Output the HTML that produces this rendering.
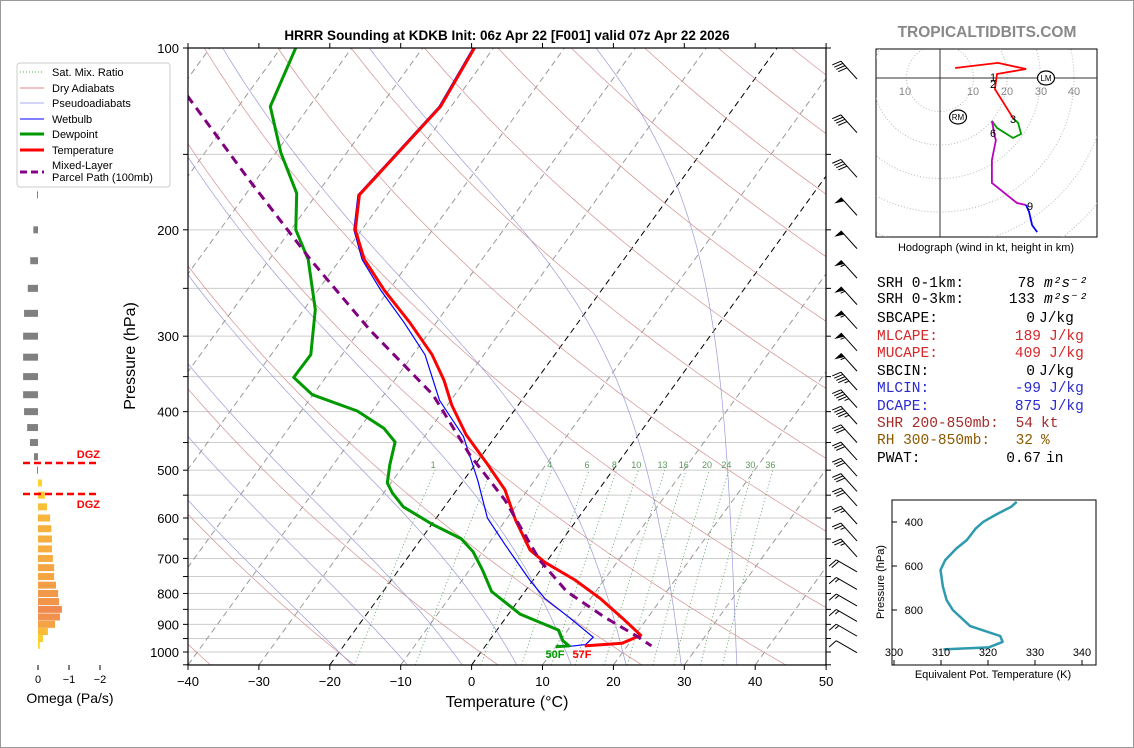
<!DOCTYPE html>
<html><head><meta charset="utf-8">
<style>
html,body{margin:0;padding:0;background:#fff;}
svg{display:block;font-family:"Liberation Sans","DejaVu Sans",sans-serif;}
.mono{font-family:"Liberation Mono","DejaVu Sans Mono",monospace;font-size:14.5px;}
</style></head>
<body>
<svg id="fig" width="1134" height="748" viewBox="0 0 1134 748" xmlns="http://www.w3.org/2000/svg">
<rect x="0.5" y="0.5" width="1133" height="747" fill="#fff" stroke="#999"/>
<defs><clipPath id="pc"><rect x="188" y="48" width="638" height="617"/></clipPath></defs>
<g id="bg" clip-path="url(#pc)"></g>
<g id="series" clip-path="url(#pc)"></g>
<g id="axes"></g>
<text x="507" y="40" text-anchor="middle" font-size="13.5" font-weight="bold">HRRR Sounding at KDKB Init: 06z Apr 22 [F001] valid 07z Apr 22 2026</text>
<text x="987" y="37" text-anchor="middle" font-size="15.5" font-weight="bold" fill="#888">TROPICALTIDBITS.COM</text>
<text x="507" y="707" text-anchor="middle" font-size="16">Temperature (°C)</text>
<text x="135" y="356" text-anchor="middle" font-size="16" transform="rotate(-90 135 356)">Pressure (hPa)</text>
<g id="legend">
<rect x="17" y="63" width="153" height="124" rx="3" fill="#fff" stroke="#ccc"/>
<g><line x1="20" y1="72" x2="44" y2="72" stroke="#4a4" stroke-dasharray="1,2"/><text x="52" y="76" font-size="11">Sat. Mix. Ratio</text></g>
<g><line x1="20" y1="88" x2="44" y2="88" stroke="#d88"/><text x="52" y="92" font-size="11">Dry Adiabats</text></g>
<g><line x1="20" y1="103" x2="44" y2="103" stroke="#aae"/><text x="52" y="107" font-size="11">Pseudoadiabats</text></g>
<g><line x1="20" y1="119" x2="44" y2="119" stroke="#00f"/><text x="52" y="123" font-size="11">Wetbulb</text></g>
<g><line x1="20" y1="134" x2="44" y2="134" stroke="#090" stroke-width="3"/><text x="52" y="138" font-size="11">Dewpoint</text></g>
<g><line x1="20" y1="150" x2="44" y2="150" stroke="#f00" stroke-width="3"/><text x="52" y="154" font-size="11">Temperature</text></g>
<g><line x1="20" y1="172" x2="44" y2="172" stroke="#808" stroke-width="3" stroke-dasharray="7,4"/><text x="52" y="169" font-size="11">Mixed-Layer</text><text x="52" y="181" font-size="11">Parcel Path (100mb)</text></g>
</g>
<g id="omega"></g>
<g id="barbs"></g>
<g id="hodo"></g>
<g id="stats"></g>
<g id="thetae"></g>
</svg>
<script>
// ---- data ----
const tempP = [100,125,150,175,200,224,252,285,322,355,390,437,486,539,605,678,710,760,815,879,938,967,977];
const tempT = [-62.7,-61.5,-62.8,-63.9,-60.9,-56.6,-50.6,-43.7,-37.3,-33.0,-29.4,-24.3,-18.6,-13.2,-8.6,-3.5,-0.2,5.9,11.3,16.5,20.8,19.0,14.0];
const dewP = [100,125,149,174,200,224,271,322,351,375,399,426,449,490,525,545,575,614,649,682,733,794,866,920,958,977,980];
const dewT = [-87.9,-85.5,-79.3,-72.9,-69.3,-64.5,-58.4,-54.4,-54.5,-50.1,-42.1,-36.6,-33.6,-32,-30.5,-28.8,-25.8,-20,-14.4,-11.4,-8.1,-4.7,1.7,8.7,10.4,11.8,10.0];
const wbP = [100,125,150,175,200,224,252,285,322,383,440,520,600,664,760,815,879,945,972,980];
const wbT = [-62.9,-61.7,-63.0,-64.1,-61.1,-56.9,-51.1,-44.5,-38.3,-31.6,-24.5,-18,-12.8,-7.6,-0.5,3.5,9.1,14.3,14.0,11.5];
const parP = [120,165,224,293,375,472,560,705,794,876,942,977];
const parT = [-98.3,-81.1,-64.2,-48.6,-33.1,-21.7,-12.2,-1.1,5.9,13.9,20.4,23.4];
const xTicks = [-40,-30,-20,-10,0,10,20,30,40,50];
const pLabels = [100,200,300,400,500,600,700,800,900,1000];
const mixRatios = [1,2,4,6,8,10,13,16,20,24,30,36];
const omegaP = [175,200,225,250,275,300,325,350,375,400,425,450,475,500,525,550,575,600,625,650,675,700,725,750,775,800,825,850,875,900,925,950,975];
const omegaV = [0.03,0.15,0.25,0.33,0.45,0.48,0.48,0.48,0.48,0.45,0.35,0.26,0.13,0.01,-0.13,-0.22,-0.29,-0.39,-0.43,-0.45,-0.45,-0.48,-0.52,-0.52,-0.58,-0.65,-0.68,-0.77,-0.71,-0.55,-0.32,-0.16,-0.06];
const barbP = [110,135,160,185,210,235,260,285,310,335,360,385,410,440,470,500,530,560,600,640,680,720,770,820,870,920,980];
const barbS = [40,40,40,50,50,55,55,55,55,55,45,45,45,30,30,30,30,30,25,25,25,20,15,15,15,15,10];
const hodoU = [4.5,17.3,25.7,17,16.4,20.9,21.8,23.3,24.2,21.8,17,15.5,16.4,16.7,15.5,15.5,23,25.7,26.6,27.5,29];
const hodoV = [3,4.5,2.7,1.2,-3.3,-10.5,-12,-13.4,-16.7,-17.9,-14.9,-12.8,-17.6,-18.5,-24.5,-31.3,-37.3,-37.9,-40,-43.9,-46];
const hodoSeg = [0,0,0,0,0,0,0,1,1,1,1,1,2,2,2,2,2,2,3,3,3];
const thetaE = [326.1,325.0,321.9,319.0,317.4,315.5,313.3,310.9,309.9,310.4,311.2,312.5,316.2,322.6,323.1,320.1,310.5];
const thetaP = [308,330,364,399,429,482,520,573,618,694,755,800,873,918,945,970,979];

const NS='http://www.w3.org/2000/svg';
function mk(parent,tag,attrs){const e=document.createElementNS(NS,tag);for(const k in attrs)e.setAttribute(k,attrs[k]);parent.appendChild(e);return e;}
function Y(p){return 48+604*Math.log10(p/100);}
function X(T,p){return 188+(T+40)*7.09+(665-Y(p))*0.725;}
function pathFrom(Ts,Ps){return Ts.map((t,i)=>(i?'L':'M')+X(t,Ps[i]).toFixed(1)+' '+Y(Ps[i]).toFixed(1)).join(' ');}

const bg=document.getElementById('bg');
for(let p=100;p<=1050;p+=50){const l=mk(bg,'line',{x1:188,x2:826,y1:Y(p),y2:Y(p),stroke:'#ccc','stroke-width':1});

}
for(let t=-150;t<=50;t+=10){const l=mk(bg,'line',{x1:X(t,1050),y1:Y(1050),x2:X(t,100),y2:Y(100),stroke:(t==0||t==-20)?'#000':'#999','stroke-width':1,'stroke-dasharray':'6,4'});

}
for(let th=233;th<=560;th+=20){let d='';for(let p=1050;p>=100;p-=10){const T=th*Math.pow(p/1000,0.286)-273.15;d+=(d?'L':'M')+X(T,p).toFixed(1)+' '+Y(p).toFixed(1);}
const l=mk(bg,'path',{d:d,fill:'none',stroke:'#d49090','stroke-width':0.7});

}
function es(Tc){return 6.112*Math.exp(17.67*Tc/(Tc+243.5));}
function dTdp(Tk,p){const rs=0.622*es(Tk-273.15)/(p-es(Tk-273.15));const Lv=2.5e6,Rd=287,cp=1005;return (Rd*Tk+Lv*rs)/(cp+Lv*Lv*rs*0.622/(Rd*Tk*Tk))/p;}
for(let t0=-20;t0<=40;t0+=8){let pts=[];let Tk=t0+273.15;for(let p=1000;p<=1050;p+=5){pts.push([Tk,p]);Tk+=dTdp(Tk,p)*5;}
pts=pts.reverse();Tk=t0+273.15;for(let p=1000;p>=100;p-=5){pts.push([Tk,p]);Tk-=dTdp(Tk,p)*5;}
const d=pts.map((q,i)=>(i?'L':'M')+X(q[0]-273.15,q[1]).toFixed(1)+' '+Y(q[1]).toFixed(1)).join(' ');
const l=mk(bg,'path',{d:d,fill:'none',stroke:'#9b9bd8','stroke-width':0.7});

}
mixRatios.forEach(w=>{let d='';for(let p=1050;p>=500;p-=10){const e=p*w/(622+w);const L=Math.log(e/6.112);const Td=243.5*L/(17.67-L);d+=(d?'L':'M')+X(Td,p).toFixed(1)+' '+Y(p).toFixed(1);}
const l=mk(bg,'path',{d:d,fill:'none',stroke:'#4a9a4a','stroke-width':0.8,'stroke-dasharray':'1,2.5'});


if(w!=2){const e=490*w/(622+w);const L=Math.log(e/6.112);const Td=243.5*L/(17.67-L);
const tx=mk(bg,'text',{x:X(Td,490)-4,y:468,'text-anchor':'middle','font-size':9,fill:'#5a9a5a'});tx.textContent=w;

}});

const sr=document.getElementById('series');
const s1=mk(sr,'path',{d:pathFrom(wbT,wbP),fill:'none',stroke:'#00f','stroke-width':1.2});


const s2=mk(sr,'path',{d:pathFrom(dewT,dewP),fill:'none',stroke:'#090','stroke-width':3,'stroke-linejoin':'round'});


const s3=mk(sr,'path',{d:pathFrom(tempT,tempP),fill:'none',stroke:'#f00','stroke-width':3,'stroke-linejoin':'round'});


const s4=mk(sr,'path',{d:pathFrom(parT,parP),fill:'none',stroke:'#800080','stroke-width':3,'stroke-dasharray':'9,6'});


const lb1=mk(sr,'text',{x:555,y:658,'text-anchor':'middle','font-size':11,'font-weight':'bold',fill:'#090'});lb1.textContent='50F';


const lb2=mk(sr,'text',{x:582,y:658,'text-anchor':'middle','font-size':11,'font-weight':'bold',fill:'#f00'});lb2.textContent='57F';



const ax=document.getElementById('axes');
const fr=mk(ax,'rect',{x:188,y:48,width:638,height:617,fill:'none',stroke:'#000','stroke-width':1.2});


xTicks.forEach(t=>{const x=188+(t+40)*7.09;mk(ax,'line',{x1:x,x2:x,y1:665,y2:670,stroke:'#000'});mk(ax,'line',{x1:x,x2:x,y1:48,y2:43,stroke:'#000'});
const tx=mk(ax,'text',{x:x,y:686,'text-anchor':'middle','font-size':13});tx.textContent=(t<0?'\u2212':'')+Math.abs(t);

});
for(let p=100;p<=1050;p+=50){const y=Y(p);mk(ax,'line',{x1:183,x2:188,y1:y,y2:y,stroke:'#000'});mk(ax,'line',{x1:826,x2:831,y1:y,y2:y,stroke:'#000'});}
pLabels.forEach(p=>{const tx=mk(ax,'text',{x:179,y:Y(p)+5,'text-anchor':'end','font-size':13});tx.textContent=p;

});

const om=document.getElementById('omega');
function omCol(v){if(v>=0)return '#808080';const m=Math.min(-v/0.8,1);const c1=[253,224,40],c2=[240,135,80];return 'rgb('+c1.map((c,i)=>Math.round(c+(c2[i]-c)*m)).join(',')+')';}
omegaP.forEach((p,i)=>{const v=omegaV[i];const w=Math.max(Math.abs(v)*31,1);const x=v>=0?38-w:38;
const r=mk(om,'rect',{x:x,y:Y(p)-3.5,width:w,height:7,fill:omCol(v)});

});
[0,-1,-2].forEach(v=>{const x=38-v*31;mk(om,'line',{x1:x,x2:x,y1:665,y2:670,stroke:'#000'});const t=mk(om,'text',{x:x,y:683,'text-anchor':'middle','font-size':11});t.textContent=v==0?'0':'\u2212'+(-v);

});
const ot=mk(om,'text',{x:70,y:703,'text-anchor':'middle','font-size':14});ot.textContent='Omega (Pa/s)';


[[463,458],[494,508]].forEach(a=>{const l=mk(om,'line',{x1:23,x2:99,y1:a[0],y2:a[0],stroke:'#f00','stroke-width':2.5,'stroke-dasharray':'7,4'});


const t=mk(om,'text',{x:100,y:a[1],'text-anchor':'end','font-size':11,'font-weight':'bold',fill:'#f00'});t.textContent='DGZ';

});

const bb=document.getElementById('barbs');
barbP.forEach((p,i)=>{const s=barbS[i];const y=Y(p);const bx=857,by=y+6;const ang=s<=20?-150*Math.PI/180:-132*Math.PI/180;
const ux=Math.cos(ang),uy=Math.sin(ang);const L=24;const tx=bx+ux*L,ty=by+uy*L;
const g=mk(bb,'g',{});


mk(g,'line',{x1:bx,y1:by,x2:tx,y2:ty,stroke:'#000','stroke-width':1});
const nx=-uy,ny=ux;let rem=s,pos=0;
while(rem>=50){const ax1=tx-ux*pos,ay1=ty-uy*pos;const ax2=tx-ux*(pos+5),ay2=ty-uy*(pos+5);mk(g,'polygon',{points:`${ax1},${ay1} ${ax1-nx*9},${ay1-ny*9} ${ax2},${ay2}`,fill:'#000'});pos+=6;rem-=50;}
while(rem>=10){const ax1=tx-ux*pos,ay1=ty-uy*pos;mk(g,'line',{x1:ax1,y1:ay1,x2:ax1-nx*9+ux*3,y2:ay1-ny*9+uy*3,stroke:'#000'});pos+=3;rem-=10;}
if(rem>=5){pos=Math.max(pos,3);const ax1=tx-ux*pos,ay1=ty-uy*pos;mk(g,'line',{x1:ax1,y1:ay1,x2:ax1-nx*4.5+ux*1.5,y2:ay1-ny*4.5+uy*1.5,stroke:'#000'});}
});

const hd=document.getElementById('hodo');
const hx0=940,hy0=78,hs=3.35;
mk(hd,'rect',{x:876,y:49,width:221,height:188,fill:'#fff',stroke:'#000'});
const hcp=mk(hd,'clipPath',{id:'hc'});mk(hcp,'rect',{x:876,y:49,width:221,height:188});
const hin=mk(hd,'g',{'clip-path':'url(#hc)'});
for(let r=10;r<=80;r+=10){const c=mk(hin,'circle',{cx:hx0,cy:hy0,r:r*hs,fill:'none',stroke:'#bbb','stroke-dasharray':'1,2'});

}
mk(hin,'line',{x1:876,x2:1097,y1:hy0,y2:hy0,stroke:'#333'});mk(hin,'line',{x1:hx0,x2:hx0,y1:49,y2:237,stroke:'#333'});
[[-10,905],[10,973],[20,1007],[30,1041],[40,1074]].forEach(a=>{const t=mk(hin,'text',{x:a[1],y:95,'text-anchor':'middle','font-size':11,fill:'#888'});t.textContent=Math.abs(a[0]);

});
const segCols=['#f00','#090','#b0b','#00f'];
for(let s=0;s<4;s++){
const idx=hodoU.map((u,i)=>i).filter(i=>hodoSeg[i]===s);if(s>0)idx.unshift(idx[0]-1);
const d=idx.map((i,k)=>(k?'L':'M')+(hx0+hodoU[i]*hs).toFixed(1)+' '+(hy0-hodoV[i]*hs).toFixed(1)).join(' ');
const l=mk(hin,'path',{d:d,fill:'none',stroke:segCols[s],'stroke-width':1.8});

}
[['1',993,81],['2',993,88],['3',1013,123],['6',993,137],['9',1030,210]].forEach(a=>{const t=mk(hin,'text',{x:a[1],y:a[2],'text-anchor':'middle','font-size':11});t.textContent=a[0];

});
[['RM',958,117],['LM',1046,78]].forEach(a=>{mk(hin,'ellipse',{cx:a[1],cy:a[2],rx:8.5,ry:7,fill:'#fff',stroke:'#000','stroke-width':1.2});const t=mk(hin,'text',{x:a[1],y:a[2]+3,'text-anchor':'middle','font-size':8});t.textContent=a[0];

});
const hct=mk(hd,'text',{x:986,y:251,'text-anchor':'middle','font-size':11});hct.textContent='Hodograph (wind in kt, height in km)';



const st=document.getElementById('stats');
const rows=[['SRH 0-1km:','78','m²s⁻²','#000',1035,1044,287,true],['SRH 0-3km:','133','m²s⁻²','#000',1035,1044,303,true],
['SBCAPE:','0','J/kg','#000',1035,1039,322],['MLCAPE:','189','J/kg','#d62728',1041,1049,340],['MUCAPE:','409','J/kg','#d62728',1041,1049,357],
['SBCIN:','0','J/kg','#000',1035,1039,375],['MLCIN:','-99','J/kg','#2a2ad0',1041,1049,392],['DCAPE:','875','J/kg','#2a2ad0',1041,1049,410],
['SHR 200-850mb:','54','kt','#a52a2a',1033,1041,427],['RH 300-850mb:','32','%','#8b5a00',1033,1041,444],['PWAT:','0.67','in','#000',1041,1046,462]];
rows.forEach(r=>{const g=mk(st,'g',{fill:r[3]});


const a=mk(g,'text',{x:877,y:r[6],class:'mono'});a.textContent=r[0];
const b=mk(g,'text',{x:r[4],y:r[6],class:'mono','text-anchor':'end'});b.textContent=r[1];
const c=mk(g,'text',{x:r[5],y:r[6],class:'mono'});if(r[7]){c.setAttribute('font-style','italic');c.setAttribute('font-family','"DejaVu Serif",serif');}c.textContent=r[2];});

const te=document.getElementById('thetae');
function TX(k){return 894+(k-300)*4.7;}function TY(p){return 522+(p-400)*0.22;}
mk(te,'rect',{x:892,y:500,width:204,height:165,fill:'#fff',stroke:'#000'});
const tl=mk(te,'path',{d:thetaE.map((k,i)=>(i?'L':'M')+TX(k).toFixed(1)+' '+TY(thetaP[i]).toFixed(1)).join(' '),fill:'none',stroke:'#2e9ab0','stroke-width':2.5,'stroke-linejoin':'round'});


[300,310,320,330,340].forEach(k=>{mk(te,'line',{x1:TX(k),x2:TX(k),y1:665,y2:660,stroke:'#000'});const t=mk(te,'text',{x:TX(k),y:656,'text-anchor':'middle','font-size':11});t.textContent=k;

});
[400,600,800].forEach(p=>{mk(te,'line',{x1:892,x2:897,y1:TY(p),y2:TY(p),stroke:'#000'});const t=mk(te,'text',{x:923,y:TY(p)+4,'text-anchor':'end','font-size':11});t.textContent=p;

});
const tx1=mk(te,'text',{x:993,y:678,'text-anchor':'middle','font-size':11});tx1.textContent='Equivalent Pot. Temperature (K)';


const tx2=mk(te,'text',{x:884,y:582,'text-anchor':'middle','font-size':11,transform:'rotate(-90 884 582)'});tx2.textContent='Pressure (hPa)';


</script>
</body></html>
